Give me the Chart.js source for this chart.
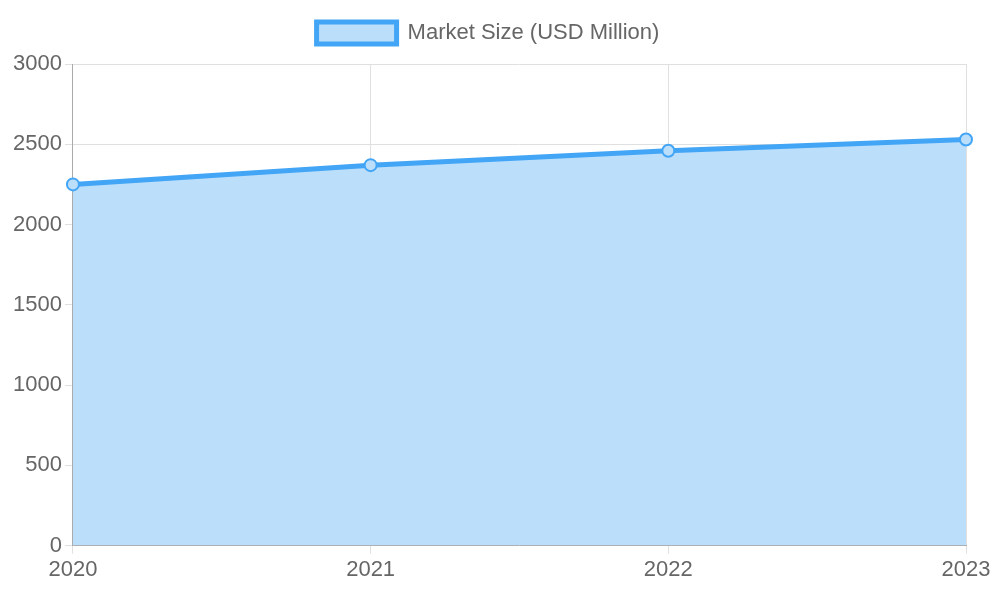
<!DOCTYPE html>
<html>
<head>
<meta charset="utf-8">
<script src="https://cdn.jsdelivr.net/npm/chart.js@4/dist/chart.umd.min.js"></script>
<style>
	html, body { margin: 0; padding: 0; background: #fff; }
	#wrap { width: 1000px; height: 600px; }
</style>
</head>
<body>
<div id="wrap"><canvas id="chart"></canvas></div>
<script>
const years = ['2020', '2021', '2022', '2023']
const marketSize = [2250, 2370, 2460, 2530]
const seriesLabel = 'Market Size (USD Million)'

Chart.defaults.font.family = '"Liberation Sans", Arial, sans-serif'
Chart.defaults.font.size = 22
Chart.defaults.color = '#666'

// Extra space under the legend.
const legendGap = {
	id: 'legendGap',
	beforeInit(chart) {
		const fit = chart.legend.fit
		chart.legend.fit = function () {
			fit.bind(chart.legend)()
			this.height += 10
		}
	},
}

new Chart(document.getElementById('chart'), {
	type: 'line',
	data: {
		labels: years,
		datasets: [{
			label: seriesLabel,
			data: marketSize,
			borderColor: '#42A5F5',
			backgroundColor: '#BBDEFB',
			borderWidth: 5,
			fill: true,
			tension: 0,
			pointRadius: 6,
			pointBorderWidth: 2,
			pointBackgroundColor: '#BBDEFB',
			pointBorderColor: '#42A5F5',
		}],
	},
	options: {
		responsive: true,
		maintainAspectRatio: false,
		animation: false,
		layout: { padding: { left: 10, top: 12, bottom: 14, right: 34 } },
		plugins: {
			legend: {
				labels: { boxWidth: 80, boxHeight: 22 },
			},
		},
		scales: {
			x: {
				grid: { color: '#e0e0e0' },
				border: { color: '#aaa' },
			},
			y: {
				min: 0,
				max: 3000,
				ticks: { stepSize: 500, callback: value => String(value) },
				grid: { color: '#e0e0e0' },
				border: { color: '#aaa' },
			},
		},
	},
	plugins: [legendGap],
})
</script>
</body>
</html>
